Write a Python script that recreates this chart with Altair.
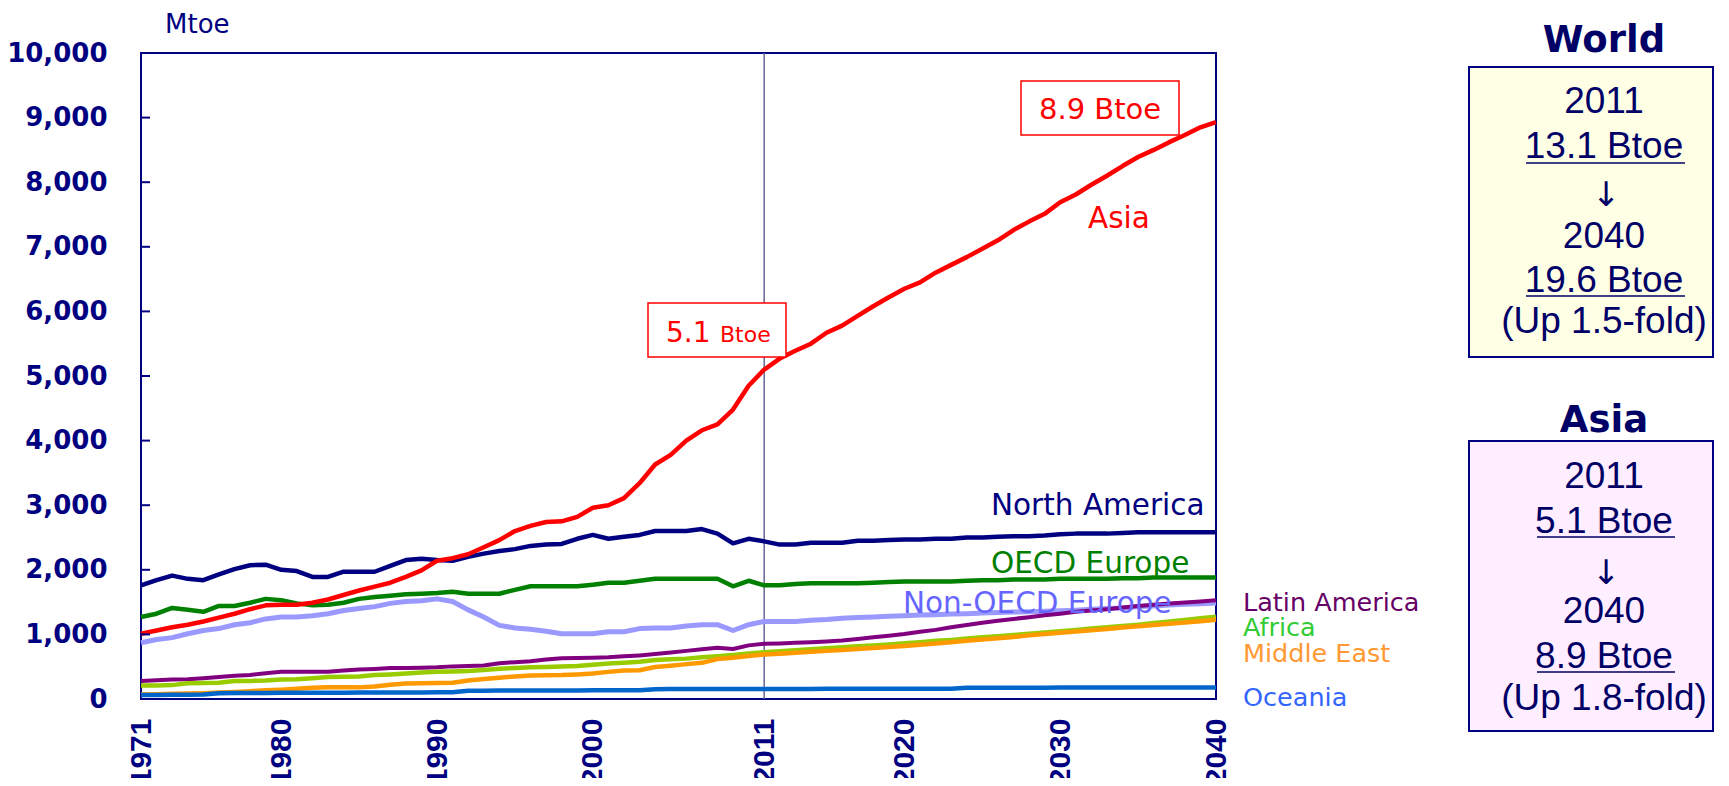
import altair as alt
import pandas as pd

# ---------------- data (Mtoe) ----------------
years = list(range(1971, 2041))

north_america = [
    1760, 1840, 1910, 1860, 1840, 1930, 2010, 2070, 2080, 2000,
    1980, 1890, 1890, 1970, 1970, 1970, 2060, 2150, 2170, 2150,
    2140, 2200, 2250, 2290, 2320, 2370, 2390, 2400, 2480, 2540,
    2480, 2510, 2540, 2600, 2600, 2600, 2630, 2560, 2410, 2480,
    2440, 2390, 2390, 2420, 2420, 2420, 2450, 2450, 2460, 2470,
    2470, 2480, 2480, 2500, 2500, 2510, 2520, 2520, 2530, 2550,
    2560, 2560, 2560, 2570, 2580, 2580, 2580, 2580, 2580, 2580]
oecd_europe = [
    1270, 1320, 1410, 1380, 1350, 1440, 1440, 1490, 1550, 1530,
    1480, 1450, 1460, 1490, 1550, 1580, 1600, 1620, 1630, 1640,
    1660, 1630, 1630, 1630, 1690, 1745, 1745, 1745, 1745, 1770,
    1800, 1800, 1830, 1860, 1860, 1860, 1860, 1860, 1745, 1830,
    1760, 1760, 1780, 1790, 1790, 1790, 1790, 1800, 1810, 1820,
    1820, 1820, 1820, 1830, 1840, 1840, 1850, 1850, 1850, 1860,
    1860, 1860, 1860, 1870, 1870, 1880, 1880, 1880, 1880, 1880]
non_oecd_europe = [
    870, 920, 950, 1010, 1060, 1090, 1150, 1180, 1240, 1270,
    1270, 1290, 1320, 1370, 1400, 1430, 1480, 1510, 1520, 1550,
    1510, 1380, 1270, 1140, 1100, 1080, 1050, 1010, 1010, 1010,
    1040, 1040, 1090, 1100, 1100, 1130, 1150, 1150, 1060, 1150,
    1200, 1200, 1200, 1220, 1230, 1250, 1260, 1270, 1280, 1290,
    1300, 1305, 1315, 1320, 1330, 1340, 1345, 1350, 1360, 1365,
    1375, 1390, 1400, 1410, 1430, 1440, 1455, 1465, 1475, 1485]
latin_america = [
    280, 290, 300, 305, 320, 340, 360, 370, 400, 420,
    420, 420, 420, 440, 455, 465, 480, 480, 485, 490,
    505, 510, 520, 555, 570, 585, 610, 630, 635, 640,
    645, 660, 675, 695, 720, 745, 770, 795, 775, 830,
    855, 860, 870, 880, 890, 905, 930, 955, 980, 1005,
    1040, 1070, 1110, 1145, 1180, 1210, 1240, 1265, 1295, 1320,
    1350, 1370, 1390, 1415, 1440, 1460, 1480, 1495, 1510, 1528]
africa = [
    210, 210, 215, 245, 248, 250, 280, 280, 285, 300,
    305, 320, 340, 345, 350, 370, 380, 395, 410, 420,
    425, 435, 450, 470, 480, 490, 495, 505, 510, 530,
    550, 560, 575, 605, 615, 625, 645, 660, 680, 705,
    725, 740, 755, 770, 785, 800, 815, 830, 845, 865,
    880, 900, 915, 935, 955, 970, 990, 1010, 1030, 1050,
    1070, 1090, 1110, 1130, 1150, 1175, 1200, 1225, 1250, 1275]
middle_east = [
    70, 75, 80, 85, 90, 100, 110, 120, 135, 145,
    160, 175, 180, 180, 180, 195, 220, 240, 245, 248,
    250, 285, 310, 330, 350, 365, 367, 370, 380, 395,
    420, 440, 445, 495, 515, 540, 560, 620, 640, 665,
    690, 700, 715, 730, 745, 760, 775, 790, 805, 820,
    840, 860, 880, 900, 920, 940, 960, 985, 1005, 1027,
    1045, 1065, 1085, 1105, 1125, 1145, 1165, 1185, 1205, 1225]
oceania = [
    62, 63, 65, 66, 68, 90, 92, 93, 94, 95,
    96, 97, 97, 98, 99, 100, 100, 101, 102, 103,
    104, 128, 129, 130, 130, 131, 132, 133, 133, 134,
    134, 135, 136, 152, 153, 154, 155, 155, 154, 155,
    156, 156, 156, 156, 157, 157, 157, 157, 157, 158,
    158, 158, 158, 175, 175, 176, 176, 176, 176, 177,
    177, 177, 177, 177, 178, 178, 178, 178, 178, 178]
asia = [
    1010, 1060, 1110, 1150, 1200, 1260, 1320, 1390, 1450, 1460,
    1460, 1490, 1540, 1610, 1680, 1740, 1800, 1890, 1990, 2140,
    2180, 2240, 2350, 2460, 2600, 2680, 2740, 2750, 2820, 2960,
    3000, 3110, 3340, 3630, 3780, 4000, 4160, 4250, 4480, 4850,
    5100, 5270, 5390, 5500, 5670, 5780, 5930, 6080, 6220, 6350,
    6450, 6600, 6720, 6840, 6970, 7100, 7260, 7390, 7510, 7690,
    7810, 7960, 8100, 8250, 8390, 8500, 8620, 8730, 8850, 8930]

series = [
    ("North America", north_america, "#000080", 4.5),
    ("OECD Europe", oecd_europe, "#008000", 4.5),
    ("Non-OECD Europe", non_oecd_europe, "#9999FF", 5.0),
    ("Latin America", latin_america, "#800080", 4.0),
    ("Africa", africa, "#99CC00", 4.5),
    ("Middle East", middle_east, "#FF9900", 4.5),
    ("Oceania", oceania, "#0066CC", 4.5),
    ("Asia", asia, "#FF0000", 4.5),
]

x_ticks = [1971, 1980, 1990, 2000, 2011, 2020, 2030, 2040]
y_ticks = [0, 1000, 2000, 3000, 4000, 5000, 6000, 7000, 8000, 9000, 10000]

# ---------------- layout helpers ----------------
W, H = 1075, 646
XMIN, XMAX = 1971, 2040
YMAX = 10000


def dx(px):
    return XMIN + px * (XMAX - XMIN) / W


def dy(py):
    return (H - py) * YMAX / H


rows = []
for name, vals, _, _ in series:
    for yr, v in zip(years, vals):
        rows.append({"region": name, "year": yr, "value": v})
df = pd.DataFrame(rows)

NAVY = "#000080"
xs = alt.Scale(domain=[XMIN, XMAX], nice=False, zero=False)
ys = alt.Scale(domain=[0, YMAX], nice=False)
x_axis = alt.Axis(values=x_ticks, format="d", labelAngle=270, labelAlign="right",
                  labelBaseline="middle", labelPadding=19, labelFontSize=30,
                  labelFont="Liberation Sans", labelFontWeight="bold",
                  labelColor=NAVY, ticks=False, tickSize=0, domain=False, grid=False,
                  title=None, labelOverlap=False, labelFlush=False)
y_axis = alt.Axis(values=y_ticks, format=",d", labelFontSize=26, labelFont="DejaVu Sans",
                  labelFontWeight="bold", labelColor=NAVY, labelPadding=34,
                  ticks=False, tickSize=0, domain=False, grid=False, title=None,
                  labelOverlap=False, labelFlush=False)
X = alt.X("year:Q", scale=xs, axis=x_axis)
Y = alt.Y("value:Q", scale=ys, axis=y_axis)

layers = []

# vertical 2011 line
layers.append(alt.Chart(pd.DataFrame({"year": [2011]})).mark_rule(
    color="#666699", strokeWidth=1.5).encode(x=X))

# series lines
for name, _, col, sw in series:
    layers.append(alt.Chart(df).transform_filter(alt.datum.region == name)
                  .mark_line(color=col, strokeWidth=sw, strokeJoin="round")
                  .encode(x=X, y=Y))

# inward y ticks
layers.append(alt.Chart(pd.DataFrame({"value": y_ticks})).mark_rule(
    color=NAVY, strokeWidth=2).encode(y=Y, x=alt.value(0), x2=alt.value(9)))

# boxes
boxes = [
    (507, 250, 645, 304, "#FFFFFF", "#FF0000", 1.5),
    (880, 28, 1038, 82, "#FFFFFF", "#FF0000", 1.5),
    (1328, 14, 1572, 304, "#FFFFE6", NAVY, 2),
    (1328, 388, 1572, 678, "#FFEEFF", NAVY, 2),
]
box_df = pd.DataFrame([{"year": dx(a), "year2": dx(c), "value": dy(b), "value2": dy(d),
                        "fill": f, "stroke": s, "sw": w} for a, b, c, d, f, s, w in boxes])
layers.append(alt.Chart(box_df).mark_rect().encode(
    x=X, x2="year2:Q", y=Y, y2="value2:Q",
    fill=alt.Fill("fill:N", scale=None), stroke=alt.Stroke("stroke:N", scale=None),
    strokeWidth=alt.StrokeWidth("sw:Q", scale=None)))

# left-aligned labels
labels = [
    ("North America", 850, 462, 29.5, "#000080"),
    ("OECD Europe", 850, 519.7, 29.5, "#008000"),
    ("Non-OECD Europe", 762, 559.7, 29.5, "#6666FF"),
    ("Asia", 947, 175, 29.5, "#FF0000"),
    ("Latin America", 1102, 558, 25.5, "#660066"),
    ("Africa", 1102, 583, 25.5, "#33CC33"),
    ("Middle East", 1102, 609, 25.5, "#FF9933"),
    ("Oceania", 1102, 653, 25.5, "#3366FF"),
    ("Mtoe", 24, -20, 26, NAVY),
    ("5.1", 525, 289, 28, "#FF0000"),
    ("Btoe", 579, 289, 22, "#FF0000"),
    ("8.9 Btoe", 898, 66, 29, "#FF0000"),
]
lab_df = pd.DataFrame([{"text": t, "year": dx(a), "value": dy(b), "size": s, "color": c}
                       for t, a, b, s, c in labels])
layers.append(alt.Chart(lab_df).mark_text(align="left", baseline="alphabetic",
                                          font="DejaVu Sans").encode(
    x=X, y=Y, text="text:N", size=alt.Size("size:Q", scale=None),
    color=alt.Color("color:N", scale=None)))

# panel headings
heads = [("World", 1463, -1), ("Asia", 1463, 379)]
head_df = pd.DataFrame([{"text": t, "year": dx(a), "value": dy(b)} for t, a, b in heads])
layers.append(alt.Chart(head_df).mark_text(align="center", baseline="alphabetic",
                                           font="DejaVu Sans", fontWeight="bold",
                                           fontSize=37, color="#000066").encode(
    x=X, y=Y, text="text:N"))

# panel texts
panel = [
    ("2011", 60), ("13.1 Btoe", 105), ("2040", 195),
    ("19.6 Btoe", 239), ("(Up 1.5-fold)", 280),
    ("2011", 435), ("5.1 Btoe", 480), ("2040", 570),
    ("8.9 Btoe", 615), ("(Up 1.8-fold)", 657),
]
pan_df = pd.DataFrame([{"text": t, "year": dx(1463), "value": dy(b)} for t, b in panel])
layers.append(alt.Chart(pan_df).mark_text(align="center", baseline="alphabetic",
                                          font="Liberation Sans", fontSize=37,
                                          color="#000066").encode(
    x=X, y=Y, text="text:N"))

# arrows
arrows = [("\u2193", 143), ("\u2193", 521)]
arr_df = pd.DataFrame([{"text": t, "year": dx(1465), "value": dy(b)} for t, b in arrows])
layers.append(alt.Chart(arr_df).mark_text(align="center", baseline="middle",
                                          font="DejaVu Sans", fontSize=34,
                                          color="#000066").encode(
    x=X, y=Y, text="text:N"))

# underlines
ulines = [(1385, 1544, 110), (1385, 1544, 243), (1396, 1534, 484), (1396, 1534, 619)]
ul_df = pd.DataFrame([{"year": dx(a), "year2": dx(b), "value": dy(c)} for a, b, c in ulines])
layers.append(alt.Chart(ul_df).mark_rule(color="#000066", strokeWidth=1.5).encode(
    x=X, x2="year2:Q", y=Y))

chart = alt.layer(*layers).properties(
    width=W, height=H,
    autosize=alt.AutoSizeParams(type="none"),
    padding={"left": 133, "top": 45, "right": 505, "bottom": 79},
).configure_view(stroke=NAVY, strokeWidth=2)

chart.save("out.html", embed_options={"renderer": "svg", "actions": False})
